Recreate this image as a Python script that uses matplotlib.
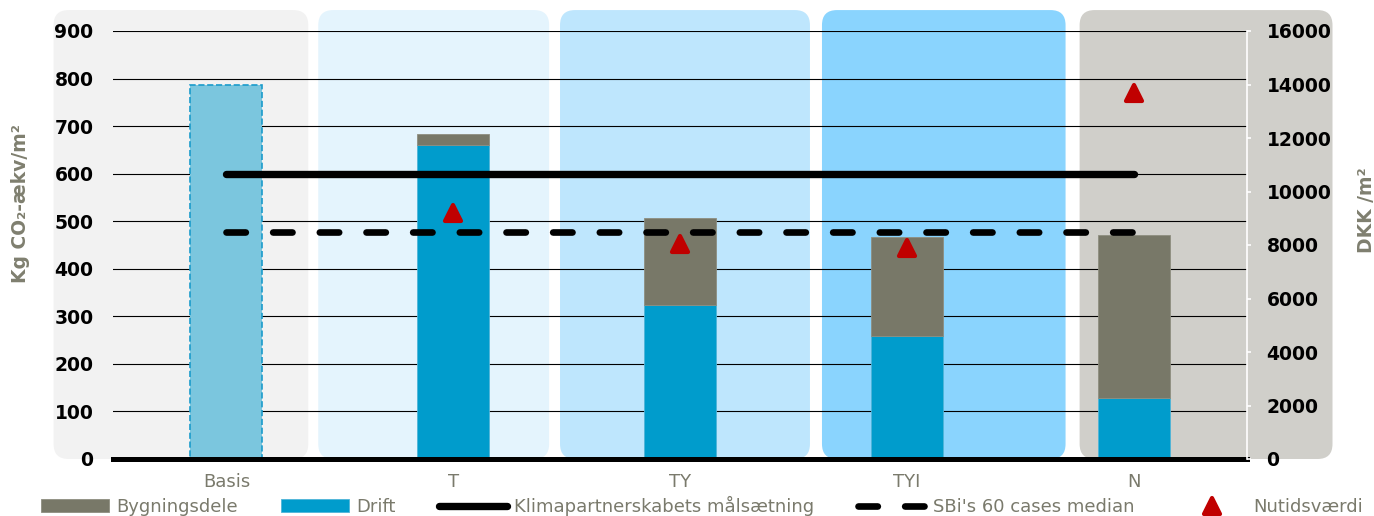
import numpy as np
import matplotlib
matplotlib.use('Agg')
import matplotlib.pyplot as plt
from matplotlib.patches import FancyBboxPatch
from matplotlib.markers import MarkerStyle

# scenario data
categories = ['Basis', 'T', 'TY', 'TYI', 'N']
basis_total = 786
drift = [660, 324, 259, 128]          # T, TY, TYI, N
bygningsdele = [23, 183, 208, 343]    # T, TY, TYI, N
klima_target = 600
sbi_median = 477
nutidsvaerdi = [9180, 8040, 7870, 13700]  # DKK/m2, T..N

# background blocks per scenario
panel_edges = [(-0.762, 0.361), (0.405, 1.423), (1.471, 2.573),
               (2.626, 3.700), (3.762, 4.877)]
panel_colors = ['#F2F2F2', '#E4F4FD', '#BEE6FD', '#8AD4FE', '#D0CFCA']

grey_text = '#7A7A6C'
c_byg = '#787868'
c_drift = '#009CCC'

fig = plt.figure(figsize=(13.74, 5.16), dpi=100)
ax = fig.add_axes([113 / 1374, 57 / 516, 1134 / 1374, 428 / 516])
ax.set_facecolor('none')

x = np.arange(len(categories))
ax.set_xlim(-0.5, 4.5)
ax.set_ylim(0, 900)

# rounded panels; mutation_aspect keeps the corners circular
aspect = (900 / 428) / (5 / 1134)
for (x0, x1), col in zip(panel_edges, panel_colors):
    p = FancyBboxPatch((x0, 0), x1 - x0, 944,
                       boxstyle='round,pad=0,rounding_size=0.066',
                       mutation_aspect=aspect, facecolor=col,
                       edgecolor='none', clip_on=False, zorder=0)
    ax.add_patch(p)

ax.set_axisbelow(True)
ax.yaxis.grid(True, color='black', linewidth=0.8)
ax.set_yticks(np.arange(0, 901, 100))

w = 0.317
ax.bar(x[0], basis_total, width=w, color='#7BC6DE', edgecolor='#1A9BCB',
       linestyle='--', linewidth=1.2, zorder=2)
b_drift = ax.bar(x[1:], drift, width=w, color=c_drift, edgecolor='#4FB4D8',
                 linewidth=0.6, zorder=2)
b_byg = ax.bar(x[1:], bygningsdele, bottom=drift, width=w, color=c_byg,
               edgecolor='#8E8E80', linewidth=0.6, zorder=2)

l_klima, = ax.plot(x, [klima_target] * len(x), color='black', linewidth=5.3,
                   solid_capstyle='round', zorder=3)
l_sbi, = ax.plot(x, [sbi_median] * len(x), color='black', linewidth=4.8,
                 linestyle=(0, (2.9, 4.1)), dash_capstyle='round', zorder=3)

ax.set_xticks(x)
ax.set_xticklabels(categories)
ax.tick_params(axis='x', length=0, pad=10, labelsize=13, labelcolor=grey_text)
ax.tick_params(axis='y', length=0, pad=14, labelsize=13.5)
for lab in ax.get_yticklabels():
    lab.set_fontweight('bold')

for side in ['left', 'right', 'top']:
    ax.spines[side].set_visible(False)
ax.spines['bottom'].set_linewidth(3.6)
ax.spines['bottom'].set_color('black')

# right axis: present value
ax2 = ax.twinx()
ax2.set_ylim(0, 16000)
ax2.set_yticks(np.arange(0, 16001, 2000))
tri = MarkerStyle('^', joinstyle='round')
l_nutid, = ax2.plot(x[1:], nutidsvaerdi, linestyle='none', marker=tri,
                    markersize=12, color='#C00000', markeredgecolor='#C00000',
                    markeredgewidth=3, zorder=4)
for side in ['left', 'top', 'bottom']:
    ax2.spines[side].set_visible(False)
ax2.spines['right'].set_color('white')
ax2.spines['right'].set_linewidth(1.2)
ax2.tick_params(axis='y', colors='white', length=3, width=1.2, pad=11,
                labelsize=13.5, labelcolor='black')
for lab in ax2.get_yticklabels():
    lab.set_fontweight('bold')

fig.text(21 / 1374, 1 - 204 / 516, 'Kg CO₂-ækv/m²', rotation=90,
         ha='center', va='center', fontsize=13.5, fontweight='bold',
         color='#7F7F6F')
fig.text(1366 / 1374, 1 - 210 / 516, 'DKK /m²', rotation=90,
         ha='center', va='center', fontsize=13.5, fontweight='bold',
         color='#7F7F6F')

handles = [b_byg, b_drift, l_klima, l_sbi, l_nutid]
labels = ['Bygningsdele', 'Drift', 'Klimapartnerskabets målsætning',
          "SBi's 60 cases median", 'Nutidsværdi']
leg = fig.legend(handles, labels, loc='center', ncol=5,
                 bbox_to_anchor=(702 / 1374, 10 / 516), frameon=False,
                 fontsize=13, handlelength=3.77, handletextpad=0.4,
                 columnspacing=2.4, borderpad=0, numpoints=1)
for t in leg.get_texts():
    t.set_color(grey_text)

fig.savefig('out.png', dpi=100)
